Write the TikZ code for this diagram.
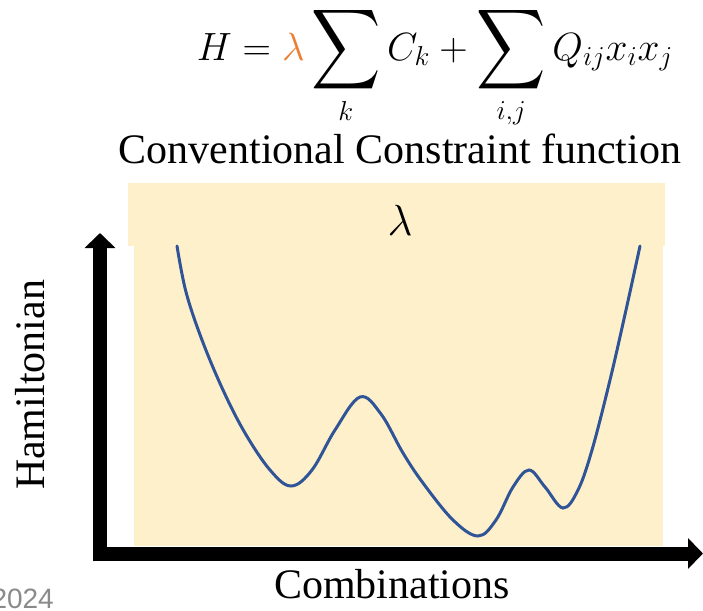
\documentclass[tikz,border=0pt]{standalone}
\usepackage{amsmath}
\usepackage{fontspec}
\setmainfont{Liberation Serif}
\newfontfamily\yearfont{Liberation Sans}
\usepackage{xcolor}
\usepackage{tikz}
\usetikzlibrary{arrows.meta,positioning,calc}

\definecolor{bandyellow}{HTML}{FFF0CC}
\definecolor{curveblue}{HTML}{2F5597}
\definecolor{lamorange}{HTML}{ED7D31}
\definecolor{yeargray}{HTML}{8A8A8A}

% tall summation sign
\newcommand{\bigsum}{\mathop{\vcenter{\hbox{\scalebox{1.22}[1.42]{$\displaystyle\sum$}}}}\limits}

\begin{document}
\begin{tikzpicture}[x=1pt, y=-1pt,
    axisarrow/.style={line width=14pt, -{Triangle[length=15pt, width=30pt]}},
    bigtext/.style={font=\fontsize{42}{50}\selectfont, inner sep=0pt}]
  \useasboundingbox (0,0) rectangle (703,610);

  % Shaded region (wider band at top)
  \fill[bandyellow] (128,183) rectangle (665,246);
  \fill[bandyellow] (134,246) rectangle (663,546);

  % Formula and caption
  \node[inner sep=0pt, font=\fontsize{20}{24}\selectfont, anchor=base] (formula) at (435,60)
    {\scalebox{1.9}{$\displaystyle H = {\color{lamorange}\lambda}\bigsum_{k} C_k + \bigsum_{i,j} Q_{ij}x_i x_j$}};
  \node[bigtext, anchor=base] (caption) at (400,163) {Conventional Constraint function};
  \node[inner sep=0pt, font=\fontsize{20}{24}\selectfont, anchor=base] (lam) at (400,235)
    {\scalebox{2.1}{$\lambda$}};

  % Axes
  \coordinate (origin) at (100,561);
  \coordinate (ytip) at (100,233);
  \coordinate (xstart) at (93,553.5);
  \coordinate (xtip) at (703,553.5);
  \draw[axisarrow] (origin) -- (ytip);
  \draw[axisarrow] (xstart) -- (xtip);
  \node[bigtext, anchor=base, rotate=90] (ylabel) at (44,385) {Hamiltonian};
  \node[bigtext, anchor=base] (xlabel) at (392,598) {Combinations};

  % Energy landscape
  \draw[curveblue, line width=3pt, line cap=round] plot[smooth, tension=0.6] coordinates {
    (177,246) (186,292) (202,340) (223,390) (245,433) (270,470)
    (291,486) (312,470) (335,430) (360,397) (381,414) (403,453)
    (423,483) (453,520) (478,536) (496,520) (513,487) (529,470)
    (545,487) (563,508) (578,490) (592,450) (610,380) (626,310) (640,246)
  };

  \node[anchor=base east, inner sep=0pt, text=yeargray,
        font=\yearfont\fontsize{28}{32}\selectfont] (year) at (54,608) {2024};
\end{tikzpicture}
\end{document}
